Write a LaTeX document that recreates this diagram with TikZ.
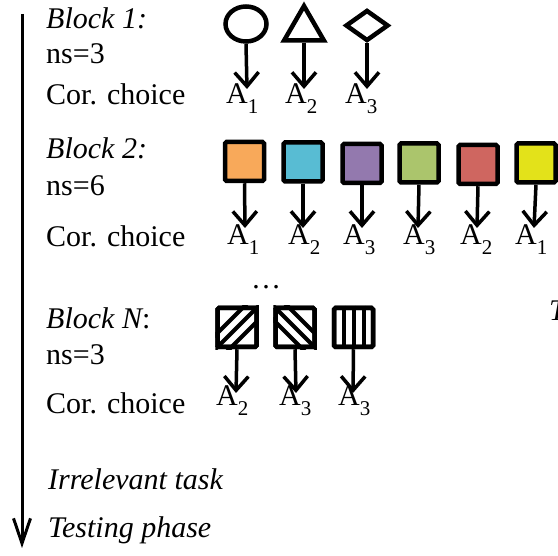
\documentclass[tikz,border=0pt]{standalone}
\usepackage{fontspec}
\setmainfont{Liberation Serif}
\usetikzlibrary{arrows.meta,shapes.geometric}
\newcommand{\Asub}[1]{A\raisebox{-10pt}{\fontsize{21}{21}\selectfont #1}}
\definecolor{cOrange}{HTML}{F8A95A}
\definecolor{cCyan}{HTML}{58BCD3}
\definecolor{cPurple}{HTML}{9379AE}
\definecolor{cGreen}{HTML}{ABC56C}
\definecolor{cRed}{HTML}{CF6660}
\definecolor{cYellow}{HTML}{E3E21A}
\begin{document}
\begin{tikzpicture}[x=1pt,y=-1pt,
  txt/.style={font=\fontsize{30}{36}\selectfont, anchor=base west, inner sep=0pt},
  itxt/.style={font=\fontsize{30}{36}\selectfont\itshape, anchor=base west, inner sep=0pt},
  lab/.style={font=\fontsize{30}{36}\selectfont, anchor=base west, inner sep=0pt},
  shp/.style={draw, line width=4.5pt, inner sep=0pt},
  sq/.style={shp, minimum size=39pt, rounded corners=1.5pt},
  arr/.style={line width=3.5pt, -{Straight Barb[length=14pt,width=24pt]}},
  hatch/.style={line width=4pt}]
\useasboundingbox (0,0) rectangle (558,556);

% timeline
\coordinate (tl0) at (22,14);
\coordinate (tl1) at (22,548);
\draw[line width=3pt, -{Straight Barb[length=25pt,width=17pt]}] (tl0) -- (tl1);

% ---------- Block 1 ----------
\node[itxt] (b1) at (46,29) {Block 1:};
\node[txt] (ns1) at (46,64) {ns=3};
\node[txt] (cc1) at (46,105) {Cor. choice};

\node[shp, ellipse, minimum width=41pt, minimum height=35pt] (s11) at (246,24) {};
\node[shp, regular polygon, regular polygon sides=3, minimum size=46pt] (s12) at (304,29) {};
\node[shp, diamond, minimum width=43pt, minimum height=31pt] (s13) at (367,25.5) {};

\node[lab] (a11) at (226,104) {\Asub{1}};
\node[lab] (a12) at (285,104) {\Asub{2}};
\node[lab] (a13) at (345,104) {\Asub{3}};

\coordinate (t11) at (247,89);
\coordinate (t12) at (304,89);
\coordinate (t13) at (367,89);
\draw[arr] (s11.south) -- (t11);
\draw[arr] (s12.south) -- (t12);
\draw[arr] (s13.south) -- (t13);

% ---------- Block 2 ----------
\node[itxt] (b2) at (46,159) {Block 2:};
\node[txt] (ns2) at (46,196) {ns=6};
\node[txt] (cc2) at (46,247) {Cor. choice};

\node[sq, fill=cOrange] (s21) at (244.5,161.5) {};
\node[sq, fill=cCyan] (s22) at (303,162) {};
\node[sq, fill=cPurple] (s23) at (362,163.5) {};
\node[sq, fill=cGreen] (s24) at (419,163) {};
\node[sq, fill=cRed] (s25) at (478,164.5) {};
\node[sq, fill=cYellow] (s26) at (536,163) {};

\node[lab] (a21) at (227,245) {\Asub{1}};
\node[lab] (a22) at (288,245) {\Asub{2}};
\node[lab] (a23) at (343,245) {\Asub{3}};
\node[lab] (a24) at (403,245) {\Asub{3}};
\node[lab] (a25) at (460,245) {\Asub{2}};
\node[lab] (a26) at (515,245) {\Asub{1}};

\coordinate (t21) at (245,228);
\coordinate (t22) at (303,228);
\coordinate (t23) at (362,228);
\coordinate (t24) at (418,228);
\coordinate (t25) at (477,228);
\coordinate (t26) at (534,228);
\draw[arr] (s21.south) -- (t21);
\draw[arr] (s22.south) -- (t22);
\draw[arr] (s23.south) -- (t23);
\draw[arr] (s24.south) -- (t24);
\draw[arr] (s25.south) -- (t25);
\draw[arr] (s26.south) -- (t26);

\node[lab, anchor=base] (dots) at (266,289) {\ldots};

% ---------- Block N ----------
\node[itxt] (bn) at (46,329) {Block N\upshape :};
\node[txt] (nsn) at (46,365) {ns=3};
\node[txt] (ccn) at (46,414) {Cor. choice};

\node[sq] (sn1) at (237,327.5) {};
\node[sq] (sn2) at (295,327.5) {};
\node[sq] (sn3) at (353.5,327.5) {};

\begin{scope}
  \clip (sn1.south west) rectangle (sn1.north east);
  \foreach \k in {-14,0,14}
    \draw[hatch] ([xshift=\k pt]sn1.south west) ++(-10,10) -- ++(60,-60);
\end{scope}
\begin{scope}
  \clip (sn2.south west) rectangle (sn2.north east);
  \foreach \k in {-14,0,14}
    \draw[hatch] ([xshift=\k pt]sn2.north west) ++(-10,-10) -- ++(60,60);
\end{scope}
\begin{scope}
  \foreach \k in {-10,0,10}
    \draw[hatch] ([xshift=\k pt]sn3.north) -- ([xshift=\k pt]sn3.south);
\end{scope}
\node[sq] at (sn1) {};
\node[sq] at (sn2) {};
\node[sq] at (sn3) {};

\node[lab] (an1) at (216,406) {\Asub{2}};
\node[lab] (an2) at (279,406) {\Asub{3}};
\node[lab] (an3) at (338,406) {\Asub{3}};

\coordinate (tn1) at (236,393);
\coordinate (tn2) at (296,393);
\coordinate (tn3) at (353,393);
\draw[arr] (sn1.south) -- (tn1);
\draw[arr] (sn2.south) -- (tn2);
\draw[arr] (sn3.south) -- (tn3);

% right edge fragment (cut off in the reference too)
\node[itxt] (tfrag) at (549,321) {T};

% ---------- bottom ----------
\node[itxt] (irr) at (48,490) {Irrelevant task};
\node[itxt] (test) at (48,538) {Testing phase};
\end{tikzpicture}
\end{document}
